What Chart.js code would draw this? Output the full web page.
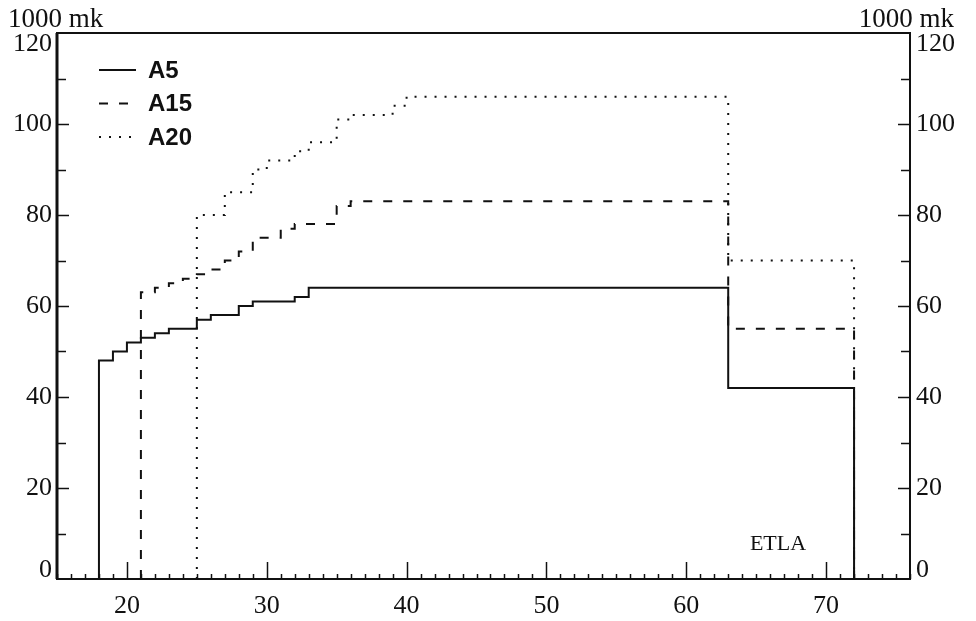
<!DOCTYPE html>
<html>
<head>
<meta charset="utf-8">
<script src="https://cdn.jsdelivr.net/npm/chart.js@4/dist/chart.umd.min.js"></script>
<style>
  html, body { margin: 0; padding: 0; background: #fff; }
</style>
</head>
<body>
<canvas id="chart" width="976" height="621"></canvas>
<script>
// step points: each value holds from its age until the next age
const agesA5 = [18, 18, 19, 20, 21, 22, 23, 25, 26, 28, 29, 32, 33, 63, 72];
const valuesA5 = [0, 48, 50, 52, 53, 54, 55, 57, 58, 60, 61, 62, 64, 42, 0];
const agesA15 = [21, 21, 22, 23, 24, 25, 26, 27, 28, 29, 31, 32, 35, 36, 63, 72];
const valuesA15 = [0, 63, 64, 65, 66, 67, 68, 70, 72, 75, 77, 78, 82, 83, 55, 0];
const agesA20 = [25, 25, 27, 29, 30, 32, 33, 35, 36, 39, 40, 63, 72];
const valuesA20 = [0, 80, 85, 90, 92, 94, 96, 101, 102, 104, 106, 70, 0];
const seriesNames = ['A5', 'A15', 'A20'];
const xTickLabels = [20, 30, 40, 50, 60, 70];
const yTickLabels = [0, 20, 40, 60, 80, 100, 120];
const unitLabel = '1000 mk';
const sourceLabel = 'ETLA';

const ink = '#111';
const dashes = [[], [9, 11], [2, 8]];

function toPoints(xs, ys) {
  return xs.map((x, i) => ({x: x, y: ys[i]}));
}

const frameAndText = {
  id: 'frameAndText',
  afterDatasetsDraw(chart) {
    const ctx = chart.ctx;
    const a = chart.chartArea;
    const xs = chart.scales.x, ys = chart.scales.y;
    ctx.save();
    ctx.strokeStyle = ink;
    ctx.fillStyle = ink;

    // frame
    ctx.lineWidth = 2;
    ctx.strokeRect(a.left, a.top, a.right - a.left, a.bottom - a.top);
    ctx.lineWidth = 3;
    ctx.beginPath();
    ctx.moveTo(a.left, a.top); ctx.lineTo(a.left, a.bottom);
    ctx.stroke();

    // x ticks, inward
    ctx.lineWidth = 1.5;
    for (let v = Math.ceil(xs.min); v <= xs.max; v++) {
      const px = Math.round(xs.getPixelForValue(v)) + 0.5;
      const len = v % 10 === 0 ? 17 : 5;
      ctx.beginPath();
      ctx.moveTo(px, a.bottom); ctx.lineTo(px, a.bottom - len);
      ctx.stroke();
    }
    // y ticks both sides, inward
    for (let v = 10; v < ys.max; v += 10) {
      const py = Math.round(ys.getPixelForValue(v)) + 0.5;
      const len = v % 20 === 0 ? 12 : 9;
      ctx.beginPath();
      ctx.moveTo(a.left, py); ctx.lineTo(a.left + len, py);
      ctx.moveTo(a.right, py); ctx.lineTo(a.right - len, py);
      ctx.stroke();
    }

    // tick labels
    ctx.font = '26px "Liberation Serif", "Times New Roman", serif';
    ctx.textBaseline = 'middle';
    yTickLabels.forEach(v => {
      let py = ys.getPixelForValue(v);
      if (v === ys.min) py -= 9;
      if (v === ys.max) py += 11;
      ctx.textAlign = 'right';
      ctx.fillText(String(v), a.left - 5, py);
      ctx.textAlign = 'left';
      ctx.fillText(String(v), a.right + 6, py);
    });
    ctx.textAlign = 'center';
    xTickLabels.forEach(v => {
      ctx.fillText(String(v), xs.getPixelForValue(v), a.bottom + 27);
    });

    // unit labels above the frame
    ctx.font = '27px "Liberation Serif", "Times New Roman", serif';
    ctx.textBaseline = 'alphabetic';
    ctx.textAlign = 'left';
    ctx.fillText(unitLabel, 8, 27);
    ctx.textAlign = 'right';
    ctx.fillText(unitLabel, 954, 27);

    // source
    ctx.font = '22px "Liberation Serif", "Times New Roman", serif';
    ctx.textAlign = 'center';
    ctx.textBaseline = 'middle';
    ctx.fillText(sourceLabel, 778, 544);

    // legend
    ctx.font = 'bold 24px "Liberation Sans", Arial, sans-serif';
    ctx.textAlign = 'left';
    seriesNames.forEach((name, i) => {
      const y = 70 + i * 33.5;
      ctx.lineWidth = 2;
      ctx.setLineDash(dashes[i]);
      ctx.beginPath();
      ctx.moveTo(99, y); ctx.lineTo(136, y);
      ctx.stroke();
      ctx.setLineDash([]);
      ctx.fillText(name, 148, y + 1);
    });
    ctx.restore();
  }
};

const lineStyle = {
  borderColor: ink,
  borderWidth: 2,
  pointRadius: 0,
  stepped: 'before',
  fill: false,
  tension: 0
};

new Chart(document.getElementById('chart'), {
  type: 'line',
  data: {
    datasets: [
      Object.assign({label: seriesNames[0], data: toPoints(agesA5, valuesA5), borderDash: dashes[0]}, lineStyle),
      Object.assign({label: seriesNames[1], data: toPoints(agesA15, valuesA15), borderDash: dashes[1]}, lineStyle),
      Object.assign({label: seriesNames[2], data: toPoints(agesA20, valuesA20), borderDash: dashes[2]}, lineStyle)
    ]
  },
  options: {
    responsive: false,
    animation: false,
    devicePixelRatio: 1,
    layout: { padding: { top: 33, left: 0, right: 0, bottom: 0 } },
    plugins: { legend: { display: false }, tooltip: { enabled: false } },
    scales: {
      x: {
        type: 'linear', min: 15, max: 76,
        grid: { display: false }, border: { display: false },
        ticks: { display: false },
        afterFit: s => { s.height = 42; }
      },
      y: {
        position: 'left', min: 0, max: 120,
        grid: { display: false }, border: { display: false },
        ticks: { display: false },
        afterFit: s => { s.width = 57; }
      },
      y2: {
        position: 'right', min: 0, max: 120,
        grid: { display: false }, border: { display: false },
        ticks: { display: false },
        afterFit: s => { s.width = 66; }
      }
    }
  },
  plugins: [frameAndText]
});
</script>
</body>
</html>
